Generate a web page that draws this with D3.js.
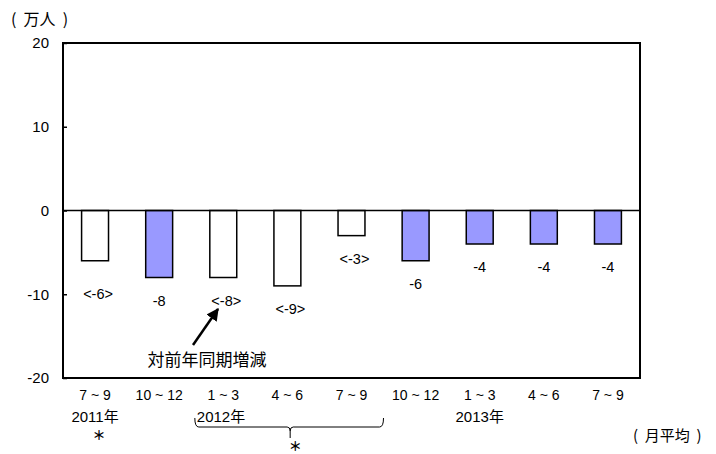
<!DOCTYPE html>
<html><head><meta charset="utf-8">
<script src="https://cdn.jsdelivr.net/npm/d3@7"></script>
<style>body{margin:0;background:#fff}svg{display:block;font-family:"Liberation Sans",Arial,"Noto Sans CJK JP",sans-serif}.pre{white-space:pre}</style>
</head><body>
<script>
const categories = ["7 ~ 9","10 ~ 12","1 ~ 3","4 ~ 6","7 ~ 9","10 ~ 12","1 ~ 3","4 ~ 6","7 ~ 9"];
const values = [-6,-8,-8,-9,-3,-6,-4,-4,-4];
const filled = [false,true,false,false,false,true,true,true,true];
const valueLabels = ["<-6>","-8","<-8>","<-9>","<-3>","-6","-4","-4","-4"];
const yTicks = [-20,-10,0,10,20];
const years = [{i:0,t:"2011年"},{i:2,t:"2012年"},{i:6,t:"2013年"}];

const W=716,H=454, L=63, R=640, T=43, B=378;
const svg=d3.select("body").append("svg").attr("width",W).attr("height",H);
const x=d3.scaleBand().domain(d3.range(categories.length)).range([L,R]).paddingInner(0.58).paddingOuter(0.29);
const y=d3.scaleLinear().domain([-20,20]).range([B,T]);
const cx=i=>x(i)+x.bandwidth()/2;

// bars
svg.selectAll("rect.bar").data(values).join("rect")
 .attr("x",(d,i)=>x(i)).attr("width",x.bandwidth())
 .attr("y",y(0)).attr("height",d=>y(d)-y(0))
 .attr("fill",(d,i)=>filled[i]?"#9999ff":"#fff")
 .attr("stroke","#000").attr("stroke-width",1.5);

// zero line
svg.append("line").attr("x1",L).attr("x2",R).attr("y1",y(0)).attr("y2",y(0)).attr("stroke","#000").attr("stroke-width",1.5);

// frame
svg.append("rect").attr("x",L).attr("y",T).attr("width",R-L).attr("height",B-T).attr("fill","none").attr("stroke","#000").attr("stroke-width",2);

// y axis (ticks inward)
const ya=d3.axisLeft(y).tickValues(yTicks).tickFormat(d=>String(d)).tickSize(-4).tickPadding(14);
const g=svg.append("g").attr("transform",`translate(${L},0)`).call(ya);
g.select(".domain").remove();
g.selectAll("line").attr("stroke","#000").attr("stroke-width",1.5);
g.selectAll("text").attr("font-size",15).attr("fill","#000").attr("font-family","Liberation Sans, Arial, sans-serif");

// x category labels
const xa=d3.axisBottom(x).tickFormat(i=>categories[i]).tickSize(0).tickPadding(12);
const gx=svg.append("g").attr("transform",`translate(0,${B})`).call(xa);
gx.select(".domain").remove();
gx.selectAll("text").attr("font-size",14).attr("fill","#000").attr("font-family","Liberation Sans, Arial, sans-serif");

// value labels
svg.selectAll("text.vl").data(values).join("text")
 .attr("x",(d,i)=>cx(i)+(valueLabels[i].startsWith("<")?3:0))
 .attr("y",(d,i)=>y(d)+(i===0?33:23)+5)
 .attr("text-anchor","middle").attr("font-size",14.5).text((d,i)=>valueLabels[i]);

// year labels
svg.selectAll("text.yr").data(years).join("text")
 .attr("x",d=>d.i===2?x(d.i)-13:cx(d.i)).attr("y",422)
 .attr("text-anchor",d=>d.i===2?"start":"middle")
 .attr("font-size",15).text(d=>d.t);

// stars
svg.append("text").attr("x",cx(0)+4).attr("y",440).attr("text-anchor","middle").attr("font-size",13).attr("font-weight","bold").attr("font-family","Noto Sans CJK JP").text("＊");
// brace under 2012
const bx1=x(2)-15, bx2=cx(4)+32, bm=(bx1+bx2)/2+1;
svg.append("path").attr("fill","none").attr("stroke","#000").attr("stroke-width",1)
 .attr("d",`M${bx1},418 Q${bx1},427 ${bx1+4},427 L${bm-3},427 Q${bm},427 ${bm},431 L${bm},438 M${bm},431 Q${bm},427 ${bm+3},427 L${bx2-4},427 Q${bx2},427 ${bx2},418`);
svg.append("text").attr("x",bm+5).attr("y",451).attr("text-anchor","middle").attr("font-size",13).attr("font-weight","bold").attr("font-family","Noto Sans CJK JP").text("＊");

// units
svg.append("text").attr("class","pre").attr("x",11).attr("y",25).attr("font-size",16).attr("font-family","Noto Sans CJK JP").text("(  万人  )");
svg.append("text").attr("class","pre").attr("x",633).attr("y",441).attr("font-size",15).attr("font-family","Noto Sans CJK JP").text("(  月平均  )");

// annotation
svg.append("defs").append("marker").attr("id","ah").attr("viewBox","0 0 10 10").attr("refX",9).attr("refY",5)
 .attr("markerWidth",5).attr("markerHeight",5).attr("orient","auto")
 .append("path").attr("d","M0,0 L10,5 L0,10 z").attr("fill","#000");
svg.append("line").attr("x1",193).attr("y1",345).attr("x2",218).attr("y2",309).attr("stroke","#000").attr("stroke-width",2.5).attr("marker-end","url(#ah)");
svg.append("text").attr("x",207).attr("y",366).attr("text-anchor","middle").attr("font-size",17).attr("font-family","Noto Sans CJK JP").text("対前年同期増減");
</script>
</body></html>
